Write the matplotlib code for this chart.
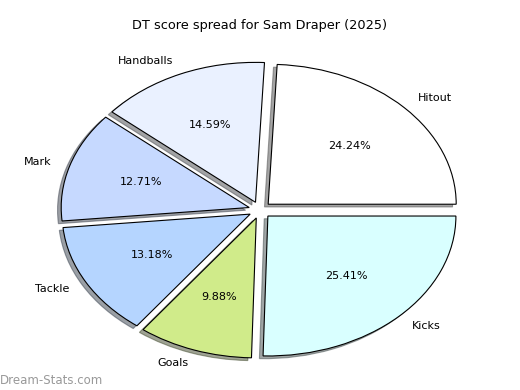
import matplotlib
matplotlib.use("Agg")
from matplotlib import pyplot

# DT score breakdown
categories = ["Hitout", "Handballs", "Mark", "Tackle", "Goals", "Kicks"]
shares = [24.24, 14.59, 12.71, 13.18, 9.88, 25.41]
colours = ["#ffffff", "#eaf1ff", "#c6d9ff", "#b5d5ff", "#d0eb8a", "#d9ffff"]

fig = pyplot.figure(figsize=(5.2, 3.9), dpi=100)
ax = fig.add_axes([0.048, 0.013, 0.904, 0.897])

wedges, texts, autotexts = ax.pie(
    shares, labels=categories, colors=colours, autopct="%1.2f%%",
    explode=[0.06] * len(shares),
    shadow={"ox": -0.014, "oy": -0.014},
    startangle=0,
    wedgeprops={"edgecolor": "black", "linewidth": 0.8},
    textprops={"fontsize": 8})

ax.set_aspect("auto")
ax.set_xlim(-1.25, 1.25)
ax.set_ylim(-1.25, 1.25)

fig.text(0.5, 0.935, "DT score spread for Sam Draper (2025)",
         ha="center", va="center", fontsize=9.3)

# watermark
fig.text(0.0, 0.025, "Dream-Stats.com", ha="left", va="center",
         fontsize=8.5, color="#999999")

fig.savefig("out.png", dpi=100)
